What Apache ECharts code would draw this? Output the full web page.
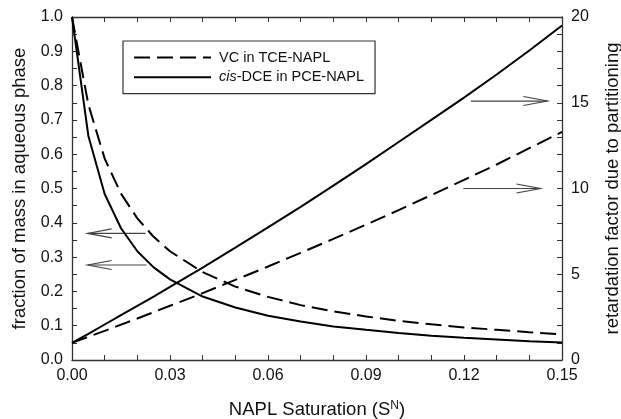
<!DOCTYPE html>
<html>
<head>
<meta charset="utf-8">
<script src="https://cdn.jsdelivr.net/npm/echarts@6/dist/echarts.min.js"></script>
<style>
  html, body { margin: 0; padding: 0; background: #fff; }
  #chart { width: 621px; height: 419px; }
</style>
</head>
<body>
<div id="chart"></div>
<script>
// NAPL saturation (S^N) sample points
const saturation = [0, 0.005, 0.01, 0.015, 0.02, 0.025, 0.03, 0.04, 0.05, 0.06, 0.07, 0.08, 0.09, 0.10, 0.11, 0.12, 0.13, 0.14, 0.15];

// fraction of mass remaining in the aqueous phase (left axis)
const fractionVC  = [1, 0.745, 0.587, 0.485, 0.413, 0.359, 0.317, 0.256, 0.214, 0.184, 0.160, 0.142, 0.127, 0.114, 0.104, 0.095, 0.088, 0.081, 0.075];
const fractionDCE = [1, 0.654, 0.484, 0.384, 0.317, 0.270, 0.235, 0.185, 0.153, 0.129, 0.112, 0.098, 0.088, 0.079, 0.071, 0.065, 0.060, 0.055, 0.051];

// retardation factor due to partitioning (right axis)
const retardVC  = [1, 1.35, 1.70, 2.06, 2.42, 2.79, 3.16, 3.90, 4.67, 5.45, 6.25, 7.06, 7.89, 8.74, 9.62, 10.5, 11.4, 12.35, 13.3];
const retardDCE = [1, 1.53, 2.07, 2.61, 3.15, 3.70, 4.26, 5.39, 6.55, 7.73, 8.93, 10.17, 11.42, 12.71, 14.0, 15.3, 16.65, 18.05, 19.5];

// legend names
const seriesNames = ['VC in TCE-NAPL', 'cis-DCE in PCE-NAPL'];

// arrows pointing each curve family to its axis: [tail x, tip x, y]
const arrowsLeft  = [[0.0225, 0.0048, 0.369], [0.0228, 0.0048, 0.277]];
const arrowsRight = [[0.1221, 0.1455, 15.1], [0.1198, 0.1434, 10.0]];

const FONT = 'Liberation Sans, Arial, sans-serif';
const AXIS_COLOR = '#333';
const TEXT_COLOR = '#111';

function pairs(xs, ys) { return xs.map((x, i) => [x, ys[i]]); }

function arrowRenderer(params, api) {
  const tail = api.coord([api.value(0), api.value(2)]);
  const tip = api.coord([api.value(1), api.value(2)]);
  const dir = tip[0] > tail[0] ? 1 : -1;
  const headLen = 24, headHalf = 4.5;
  const style = { stroke: '#444', lineWidth: 1.2, fill: null };
  return {
    type: 'group',
    children: [
      { type: 'line', shape: { x1: tail[0], y1: tail[1], x2: tip[0], y2: tip[1] }, style },
      { type: 'polyline', shape: { points: [
          [tip[0] - dir * headLen, tip[1] - headHalf],
          [tip[0], tip[1]],
          [tip[0] - dir * headLen, tip[1] + headHalf]
        ] }, style }
    ]
  };
}

const lineBase = { type: 'line', symbol: 'none', smooth: false, silent: true, animation: false };
const dashed = { color: '#000', width: 2, type: [16, 7] };
const solid = { color: '#000', width: 2, type: 'solid' };

const tickStyle = { color: AXIS_COLOR, width: 1 };

const chart = echarts.init(document.getElementById('chart'), null, { renderer: 'canvas' });
chart.setOption({
  animation: false,
  backgroundColor: '#fff',
  textStyle: { fontFamily: FONT },
  grid: { left: 72, right: 59, top: 17, bottom: 59, containLabel: false, outerBoundsMode: 'none' },
  legend: {
    orient: 'vertical',
    left: 123,
    top: 41,
    data: seriesNames,
    padding: [9, 11, 9, 10],
    itemWidth: 77,
    itemHeight: 14,
    itemGap: 4.7,
    borderColor: '#333',
    borderWidth: 1.2,
    selectedMode: false,
    itemStyle: { opacity: 0 },
    textStyle: {
      fontFamily: FONT, fontSize: 14.5, color: TEXT_COLOR, padding: [0, 0, 0, 3],
      rich: { i: { fontFamily: FONT, fontSize: 14.5, fontStyle: 'italic', color: TEXT_COLOR } }
    },
    formatter: name => name.startsWith('cis-') ? '{i|cis}' + name.slice(3) : name
  },
  xAxis: [
    {
      type: 'value', position: 'bottom', min: 0, max: 0.15, interval: 0.03,
      name: '{n|NAPL Saturation (S}{s|N}{n|)}',
      nameLocation: 'middle', nameGap: 40,
      nameTextStyle: {
        rich: {
          n: { fontFamily: FONT, fontSize: 18.5, color: TEXT_COLOR },
          s: { fontFamily: FONT, fontSize: 12, color: TEXT_COLOR, verticalAlign: 'top', padding: [0, 0, 6, 0] }
        }
      },
      axisLine: { show: true, onZero: false, lineStyle: { color: AXIS_COLOR, width: 1.3 } },
      axisTick: { show: true, inside: true, length: 5, lineStyle: tickStyle },
      minorTick: { show: true, splitNumber: 3, length: 5, lineStyle: tickStyle },
      axisLabel: { fontSize: 16, color: TEXT_COLOR, margin: 8, formatter: v => v.toFixed(2) },
      splitLine: { show: false }
    },
    {
      type: 'value', position: 'top', min: 0, max: 0.15, interval: 0.03,
      axisLine: { show: true, onZero: false, lineStyle: { color: AXIS_COLOR, width: 1.3 } },
      axisTick: { show: true, inside: true, length: 5, lineStyle: tickStyle },
      minorTick: { show: true, splitNumber: 3, length: 5, lineStyle: tickStyle },
      axisLabel: { show: false },
      splitLine: { show: false }
    }
  ],
  yAxis: [
    {
      type: 'value', position: 'left', min: 0, max: 1, interval: 0.1,
      name: 'fraction of mass in aqueous phase',
      nameLocation: 'middle', nameGap: 38, nameRotate: 90,
      nameTextStyle: { fontFamily: FONT, fontSize: 18.5, color: TEXT_COLOR },
      axisLine: { show: true, onZero: false, lineStyle: { color: AXIS_COLOR, width: 1.3 } },
      axisTick: { show: true, inside: true, length: 5, lineStyle: tickStyle },
      minorTick: { show: true, splitNumber: 2, length: 5, lineStyle: tickStyle },
      axisLabel: { fontSize: 16, color: TEXT_COLOR, margin: 9, formatter: v => v.toFixed(1) },
      splitLine: { show: false }
    },
    {
      type: 'value', position: 'right', min: 0, max: 20, interval: 5,
      name: 'retardation factor due to partitioning',
      nameLocation: 'middle', nameGap: 41, nameRotate: 90,
      nameTextStyle: { fontFamily: FONT, fontSize: 18.5, color: TEXT_COLOR },
      axisLine: { show: true, onZero: false, lineStyle: { color: AXIS_COLOR, width: 1.3 } },
      axisTick: { show: true, inside: true, length: 5, lineStyle: tickStyle },
      minorTick: { show: true, splitNumber: 5, length: 5, lineStyle: tickStyle },
      axisLabel: { fontSize: 16, color: TEXT_COLOR, margin: 9 },
      splitLine: { show: false }
    }
  ],
  series: [
    Object.assign({}, lineBase, { name: seriesNames[0], yAxisIndex: 0, data: pairs(saturation, fractionVC), lineStyle: dashed, itemStyle: { color: '#000' } }),
    Object.assign({}, lineBase, { name: seriesNames[1], yAxisIndex: 0, data: pairs(saturation, fractionDCE), lineStyle: solid, itemStyle: { color: '#000' } }),
    Object.assign({}, lineBase, { name: 'R ' + seriesNames[0], yAxisIndex: 1, data: pairs(saturation, retardVC), lineStyle: dashed, itemStyle: { color: '#000' } }),
    Object.assign({}, lineBase, { name: 'R ' + seriesNames[1], yAxisIndex: 1, data: pairs(saturation, retardDCE), lineStyle: solid, itemStyle: { color: '#000' } }),
    {
      type: 'custom', name: 'to left axis', yAxisIndex: 0, silent: true,
      renderItem: arrowRenderer, encode: { x: [0, 1], y: 2 }, data: arrowsLeft
    },
    {
      type: 'custom', name: 'to right axis', yAxisIndex: 1, silent: true,
      renderItem: arrowRenderer, encode: { x: [0, 1], y: 2 }, data: arrowsRight
    }
  ]
});
</script>
</body>
</html>
